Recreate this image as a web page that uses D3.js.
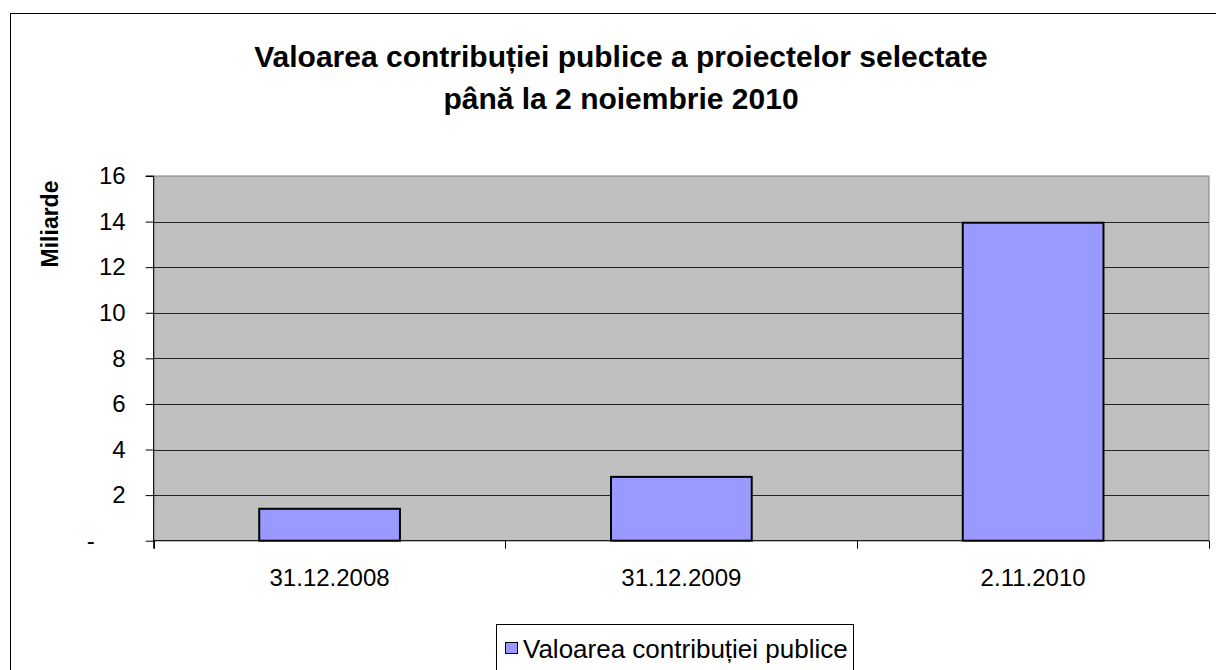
<!DOCTYPE html>
<html><head><meta charset="utf-8">
<script src="https://cdn.jsdelivr.net/npm/d3@7"></script>
<style>
html,body{margin:0;padding:0;background:#fff;}
svg{display:block;font-family:"Liberation Sans",Arial,sans-serif;}
</style></head>
<body>
<svg id="chart" width="1216" height="670"></svg>
<script>
const categories = ["31.12.2008", "31.12.2009", "2.11.2010"];
const values = [1.4, 2.8, 13.95];
const seriesName = "Valoarea contribuției publice";
const yTicks = [0, 2, 4, 6, 8, 10, 12, 14, 16];
const titleLines = ["Valoarea contribuției publice a proiectelor selectate", "până la 2 noiembrie 2010"];
const yTitle = "Miliarde";

const svg = d3.select("#chart");
const L = 153.7, R = 1209, T = 176, B = 540.7;

// outer chart border
svg.append("rect").attr("x", 10.5).attr("y", 13.5).attr("width", 1300).attr("height", 800)
  .attr("fill", "#fff").attr("stroke", "#000").attr("stroke-width", 1);

const y = d3.scaleLinear().domain([0, 16]).range([B, T]);
const x = d3.scaleBand().domain(categories).range([L, R]).paddingInner(0.6).paddingOuter(0.3);
const step = x.step();

// plot background
svg.append("rect").attr("x", L).attr("y", T).attr("width", R - L).attr("height", B - T)
  .attr("fill", "#C0C0C0").attr("stroke", "#808080").attr("stroke-width", 1);

// gridlines
svg.append("g").selectAll("line").data(yTicks.filter(d => d > 0 && d < 16)).join("line")
  .attr("x1", L).attr("x2", R).attr("y1", d => Math.round(y(d)) + 0.5).attr("y2", d => Math.round(y(d)) + 0.5)
  .attr("stroke", "#222").attr("stroke-width", 1);

// bars
svg.append("g").selectAll("rect").data(values).join("rect")
  .attr("x", (d, i) => x(categories[i]))
  .attr("y", d => y(d))
  .attr("width", x.bandwidth())
  .attr("height", d => B - y(d))
  .attr("fill", "#9999FF").attr("stroke", "#000").attr("stroke-width", 2);

// y axis
const yAxis = d3.axisLeft(y).tickValues(yTicks).tickSize(8).tickPadding(20)
  .tickFormat(d => d === 0 ? "-" : d3.format("d")(d));
const gy = svg.append("g").attr("transform", `translate(${L},0)`).call(yAxis);
gy.select(".domain").attr("stroke", "#000").attr("d", `M-8,${T}H0V${B + 8}`);
gy.selectAll(".tick line").attr("stroke", "#000");
gy.selectAll(".tick text").attr("font-size", 24).attr("fill", "#000")
  .attr("font-family", "Liberation Sans, Arial, sans-serif")
  .attr("dx", d => d === 0 ? -31 : 0);

// x axis
const xAxis = d3.axisBottom(x).tickSize(0).tickPadding(28);
const gx = svg.append("g").attr("transform", `translate(0,${B})`).call(xAxis);
gx.select(".domain").attr("stroke", "#000").attr("d", `M${L},0H${R}`);
gx.selectAll(".tick text").attr("font-size", 24).attr("fill", "#000")
  .attr("font-family", "Liberation Sans, Arial, sans-serif");
// category boundary ticks
const bounds = d3.range(categories.length + 1).map(i => L + i * step);
gx.append("g").selectAll("line").data(bounds).join("line")
  .attr("x1", d => Math.round(d) + 0.5).attr("x2", d => Math.round(d) + 0.5)
  .attr("y1", 0).attr("y2", 8).attr("stroke", "#000");

// title
const title = svg.append("text").attr("text-anchor", "middle")
  .attr("font-size", 30).attr("font-weight", "bold").attr("fill", "#000");
titleLines.forEach((t, i) => {
  title.append("tspan").attr("x", 621).attr("y", 67 + i * 42).text(t);
});

// y title
svg.append("text").attr("transform", `translate(58,224) rotate(-90)`)
  .attr("text-anchor", "middle").attr("font-size", 23).attr("font-weight", "bold")
  .attr("fill", "#000").text(yTitle);

// legend
const lg = svg.append("g");
lg.append("rect").attr("x", 496.5).attr("y", 624.5).attr("width", 357).attr("height", 80)
  .attr("fill", "#fff").attr("stroke", "#000").attr("stroke-width", 1);
lg.append("rect").attr("x", 505.5).attr("y", 642.5).attr("width", 12).attr("height", 11)
  .attr("fill", "#9999FF").attr("stroke", "#000").attr("stroke-width", 1);
lg.append("text").attr("x", 523).attr("y", 658).attr("font-size", 26).attr("fill", "#000")
  .text(seriesName);
</script>
</body></html>
